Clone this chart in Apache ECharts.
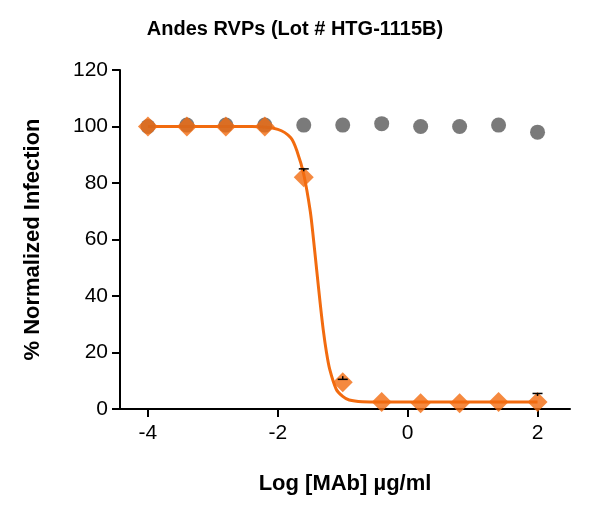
<!DOCTYPE html>
<html><head><meta charset="utf-8">
<script src="https://cdn.jsdelivr.net/npm/echarts@6/dist/echarts.min.js"></script>
<style>body{margin:0;background:#fff}#c{width:590px;height:525px}</style>
</head><body><div id="c"></div>
<script>
var logDose = [-4, -3.4, -2.8, -2.2, -1.6, -1.0, -0.4, 0.2, 0.8, 1.4, 2.0];
var mabValues = [100, 100, 100, 100, 82, 9.5, 2.5, 2, 2, 2.5, 2.5];
var controlValues = [100, 100.5, 100.5, 100.5, 100.5, 100.5, 101, 100, 100, 100.5, 98];
var mabErr = [0, 0, 0, 0, 3, 1, 0, 0, 0, 0, 3];
// fitted curve points
var fitX = [-4, -2.4, -2.0, -1.8, -1.7, -1.6, -1.5, -1.45, -1.4, -1.35, -1.3, -1.25, -1.2, -1.1, -1.0, -0.9, -0.7, -0.4, 2.0];
var fitY = [100, 100, 99, 96, 91, 83, 70, 60, 49, 38, 28, 20, 14, 7, 4.5, 3.2, 2.6, 2.5, 2.5];
var xTicks = [-4, -2, 0, 2];

var chart = echarts.init(document.getElementById('c'));
var font = 'Liberation Sans, Arial, sans-serif';
chart.setOption({
	animation: false,
	title: {text: 'Andes RVPs (Lot # HTG-1115B)', left: 'center', top: 14,
		textStyle: {fontFamily: font, fontSize: 20, fontWeight: 'bold', color: '#000'}},
	grid: {left: 120, right: 20, top: 70, bottom: 116},
	xAxis: {type: 'value', min: -4.43, max: 2.5,
		name: 'Log [MAb] \u00b5g/ml', nameLocation: 'middle', nameGap: 64,
		nameTextStyle: {fontFamily: font, fontSize: 22, fontWeight: 'bold', color: '#000'},
		axisLine: {onZero: false, lineStyle: {color: '#000', width: 2}},
		axisTick: {show: true, length: 8, lineStyle: {color: '#000', width: 2}, customValues: xTicks},
		axisLabel: {fontFamily: font, fontSize: 21, color: '#000', margin: 14, customValues: xTicks},
		splitLine: {show: false}},
	yAxis: {type: 'value', min: 0, max: 120, interval: 20,
		name: '% Normalized Infection', nameLocation: 'middle', nameGap: 76,
		nameTextStyle: {fontFamily: font, fontSize: 22, fontWeight: 'bold', color: '#000'},
		axisLine: {show: true, onZero: false, lineStyle: {color: '#000', width: 2}},
		axisTick: {show: true, length: 8, lineStyle: {color: '#000', width: 2}},
		axisLabel: {fontFamily: font, fontSize: 21, color: '#000', margin: 12},
		splitLine: {show: false}},
	series: [
		{type: 'line', data: fitX.map(function(x, i){return [x, fitY[i]];}), smooth: 0.3,
			showSymbol: false, lineStyle: {color: '#f26b0f', width: 3}, z: 2},
		{type: 'scatter', data: logDose.map(function(x, i){return [x, controlValues[i]];}),
			symbol: 'circle', symbolSize: 15, itemStyle: {color: '#595959'}, z: 4},
		{type: 'scatter', data: logDose.map(function(x, i){return [x, mabValues[i]];}),
			symbol: 'diamond', symbolSize: [20, 20], itemStyle: {color: '#f26b0f'}, z: 5},
		{type: 'custom', z: 6,
			data: logDose.map(function(x, i){return [x, mabValues[i], mabErr[i]];}),
			renderItem: function(params, api){
				var e = api.value(2);
				if (!e) return;
				var a = api.coord([api.value(0), api.value(1) + e]);
				var c = api.coord([api.value(0), api.value(1)]);
				return {type: 'group', children: [
					{type: 'line', shape: {x1: a[0], y1: a[1], x2: c[0], y2: c[1] - 6}, style: {stroke: '#000', lineWidth: 1.5}},
					{type: 'line', shape: {x1: a[0]-5, y1: a[1], x2: a[0]+5, y2: a[1]}, style: {stroke: '#000', lineWidth: 1.5}}
				]};
			}}
	]
});
</script></body></html>
